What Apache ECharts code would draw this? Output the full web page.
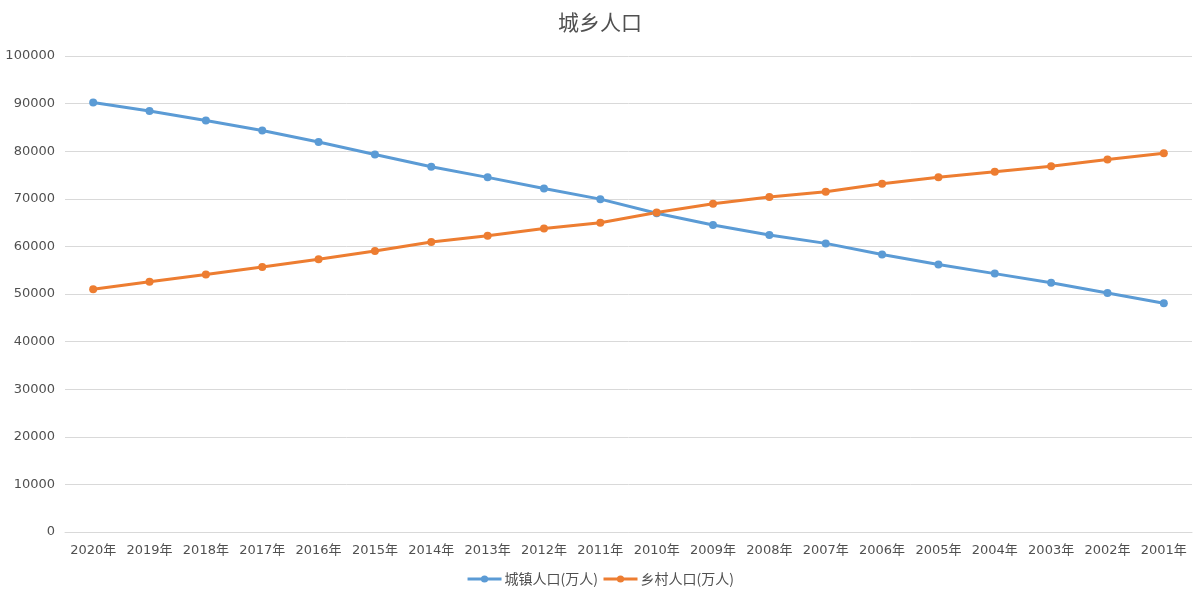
<!DOCTYPE html>
<html>
<head>
<meta charset="utf-8">
<script src="https://cdn.jsdelivr.net/npm/echarts@6/dist/echarts.min.js"></script>
<style>html,body{margin:0;padding:0;background:#fff}#c{width:1200px;height:593px}</style>
</head>
<body>
<div id="c"></div>
<script>
const categories = ['2020年','2019年','2018年','2017年','2016年','2015年','2014年','2013年','2012年','2011年','2010年','2009年','2008年','2007年','2006年','2005年','2004年','2003年','2002年','2001年'];
const urban = [90220,88426,86433,84343,81924,79302,76738,74502,72175,69927,66978,64512,62403,60633,58288,56212,54283,52376,50212,48064];
const rural = [50992,52582,54108,55668,57308,59024,60908,62224,63747,64989,67113,68938,70399,71496,73160,74544,75705,76851,78241,79563];
const seriesNames = ['城镇人口(万人)','乡村人口(万人)'];

const chart = echarts.init(document.getElementById('c'));
const font = '"DejaVu Sans", "Noto Sans CJK SC", sans-serif';
const cjk = '"Noto Sans CJK SC", sans-serif';
chart.setOption({
  animation: false,
  title: { text: '城乡人口', left: 'center', top: 7, textStyle: { fontSize: 21, fontWeight: 'normal', color: '#505050', fontFamily: cjk } },
  legend: { bottom: 2, itemWidth: 34, itemHeight: 9, itemGap: 4, lineStyle: { width: 3 }, textStyle: { fontSize: 14, color: '#505050', fontFamily: cjk, padding: [0, 0, 0, -2] }, data: seriesNames },
  grid: { left: 65, right: 8, top: 56, bottom: 61 },
  xAxis: {
    type: 'category', data: categories, boundaryGap: true,
    axisLine: { lineStyle: { color: '#d9d9d9' } }, axisTick: { show: false },
    axisLabel: { color: '#505050', fontSize: 13, margin: 12, interval: 0, fontFamily: font }
  },
  yAxis: {
    type: 'value', min: 0, max: 100000, interval: 10000,
    axisLine: { show: false }, axisTick: { show: false },
    splitLine: { lineStyle: { color: '#d9d9d9' } },
    axisLabel: { color: '#505050', fontSize: 13, margin: 10, fontFamily: font, formatter: v => String(v) }
  },
  series: [
    { name: seriesNames[0], type: 'line', data: urban, symbol: 'circle', symbolSize: 8, lineStyle: { width: 3, color: '#5B9BD5' }, itemStyle: { color: '#5B9BD5' } },
    { name: seriesNames[1], type: 'line', data: rural, symbol: 'circle', symbolSize: 8, lineStyle: { width: 3, color: '#ED7D31' }, itemStyle: { color: '#ED7D31' } }
  ]
});
</script>
</body>
</html>
